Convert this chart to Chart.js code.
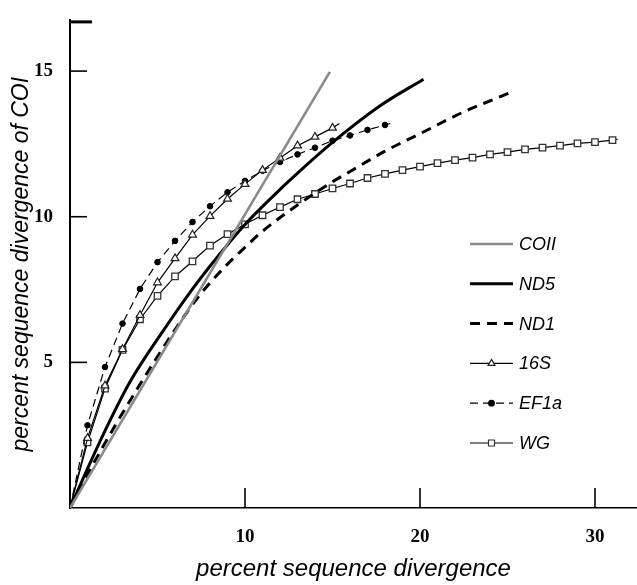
<!DOCTYPE html>
<html>
<head>
<meta charset="utf-8">
<script src="https://cdn.jsdelivr.net/npm/chart.js@4/dist/chart.umd.min.js"></script>
<style>
  html, body { margin: 0; padding: 0; background: #fff; }
  #wrap { width: 637px; height: 585px; }
</style>
</head>
<body>
<div id="wrap"><canvas id="chart"></canvas></div>
<script>
// values (x = percent divergence, y = percent divergence of COI)
const coiiX = [0, 14.85]
const coiiY = [0, 14.97]

const nd5X = [0, 1, 2, 3.4, 5.4, 7.1, 8.4, 10.1, 12.2, 13.1, 15, 17.7, 20.2]
const nd5Y = [0, 1.35, 2.65, 4.3, 6.15, 7.6, 8.6, 9.8, 11.05, 11.55, 12.55, 13.8, 14.72]

const nd1X = [0, 1, 2.6, 3.8, 5, 6.2, 7.4, 8.8, 10, 11, 13, 15, 16, 18, 20, 22.5, 25.2]
const nd1Y = [0, 1.15, 2.85, 4.05, 5.2, 6.3, 7.3, 8.25, 8.95, 9.5, 10.4, 11.2, 11.55, 12.25, 12.85, 13.6, 14.27]

const s16X = [0, 1, 2, 3, 4, 5, 6, 7, 8, 9, 10, 11, 12, 13, 14, 15, 15.4]
const s16Y = [0, 2.4, 4.2, 5.45, 6.62, 7.74, 8.57, 9.38, 10.02, 10.61, 11.12, 11.6, 12.02, 12.44, 12.74, 13.05, 13.2]

const ef1aX = [0, 1, 2, 3, 4, 5, 6, 7, 8, 9, 10, 11, 12, 13, 14, 15, 16, 17, 18, 18.3]
const ef1aY = [0, 2.84, 4.84, 6.33, 7.52, 8.44, 9.17, 9.82, 10.36, 10.84, 11.23, 11.58, 11.88, 12.14, 12.37, 12.61, 12.79, 12.98, 13.15, 13.2]

const wgX = [0, 1, 2, 3, 4, 5, 6, 7, 8, 9, 10, 11, 12, 13, 14, 15, 16, 17, 18, 19, 20, 21, 22, 23, 24, 25, 26, 27, 28, 29, 30, 31, 31.3]
const wgY = [0, 2.25, 4.1, 5.43, 6.48, 7.28, 7.95, 8.47, 9.01, 9.4, 9.74, 10.05, 10.33, 10.6, 10.78, 10.97, 11.14, 11.33, 11.47, 11.6, 11.72, 11.84, 11.94, 12.03, 12.14, 12.22, 12.31, 12.37, 12.44, 12.52, 12.56, 12.63, 12.66]

const xTicks = [10, 20, 30]
const yTicks = [5, 10, 15]
const xMax = 32.4
const yMax = 16.74

const pts = (xs, ys) => xs.map((x, i) => ({ x, y: ys[i] }))
// marker on every whole-number x except the origin and the line's loose end
const markerRadius = (xs, r) => xs.map(x => (x > 0 && Number.isInteger(x) ? r : 0))

const datasets = [
  { label: 'COII', data: pts(coiiX, coiiY), borderColor: '#8a8a8a', borderWidth: 2.6, pointRadius: 0 },
  { label: 'ND5', data: pts(nd5X, nd5Y), borderColor: '#000', borderWidth: 3, pointRadius: 0, cubicInterpolationMode: 'monotone' },
  { label: 'ND1', data: pts(nd1X, nd1Y), borderColor: '#000', borderWidth: 3, borderDash: [10, 7], pointRadius: 0, cubicInterpolationMode: 'monotone' },
  { label: '16S', data: pts(s16X, s16Y), borderColor: '#000', borderWidth: 1.2, pointStyle: 'triangle',
    pointRadius: markerRadius(s16X, 4.5), pointBackgroundColor: '#fff', pointBorderColor: '#222', pointBorderWidth: 1.2 },
  { label: 'EF1a', data: pts(ef1aX, ef1aY), borderColor: '#000', borderWidth: 1.2, borderDash: [8, 5], pointStyle: 'circle',
    pointRadius: markerRadius(ef1aX, 2.8), pointBackgroundColor: '#000', pointBorderColor: '#000', pointBorderWidth: 1 },
  { label: 'WG', data: pts(wgX, wgY), borderColor: '#000', borderWidth: 1.2, pointStyle: 'rect',
    pointRadius: markerRadius(wgX, 4.6), pointBackgroundColor: '#fff', pointBorderColor: '#333', pointBorderWidth: 1.3 },
]

const line = (ctx, x1, y1, x2, y2) => {
  ctx.beginPath(); ctx.moveTo(x1, y1); ctx.lineTo(x2, y2); ctx.stroke()
}

// tick marks point inward in the original, plus a heavy cap on top of the y axis
const axisMarks = {
  id: 'axisMarks',
  afterDraw(chart) {
    const { ctx, chartArea: a, scales: { x, y } } = chart
    ctx.save()
    ctx.strokeStyle = '#000'
    ctx.lineWidth = 1.6
    yTicks.forEach(v => line(ctx, a.left, y.getPixelForValue(v), a.left + 17, y.getPixelForValue(v)))
    xTicks.forEach(v => line(ctx, x.getPixelForValue(v), a.bottom, x.getPixelForValue(v), a.bottom - 20))
    ctx.lineWidth = 3
    line(ctx, a.left - 1, a.top + 1.5, a.left + 22, a.top + 1.5)
    ctx.restore()
  }
}

const drawMarker = (ctx, style, cx, cy, r) => {
  ctx.beginPath()
  if (style === 'triangle') {
    ctx.moveTo(cx, cy - r); ctx.lineTo(cx + r * 0.87, cy + r * 0.5); ctx.lineTo(cx - r * 0.87, cy + r * 0.5); ctx.closePath()
  } else if (style === 'rect') {
    ctx.rect(cx - r, cy - r, 2 * r, 2 * r)
  } else {
    ctx.arc(cx, cy, r, 0, Math.PI * 2)
  }
  ctx.fill(); ctx.stroke()
}

// legend: line sample with the marker in its middle, label to the right
const sideLegend = {
  id: 'sideLegend',
  afterDraw(chart) {
    const ctx = chart.ctx
    const x0 = 470, x1 = 513, rowY = 244, step = 39.8
    ctx.save()
    chart.data.datasets.forEach((ds, i) => {
      const cy = rowY + i * step
      ctx.strokeStyle = ds.borderColor
      ctx.lineWidth = ds.borderWidth
      ctx.setLineDash(ds.borderDash || [])
      line(ctx, x0, cy, x1, cy)
      ctx.setLineDash([])
      if (ds.pointStyle) {
        ctx.fillStyle = ds.pointBackgroundColor
        ctx.strokeStyle = ds.pointBorderColor
        ctx.lineWidth = 1.2
        const r = ds.pointStyle === 'rect' ? 3 : ds.pointStyle === 'triangle' ? 4 : 2.8
        drawMarker(ctx, ds.pointStyle, (x0 + x1) / 2, cy, r)
      }
      ctx.fillStyle = '#000'
      ctx.font = 'italic 18px "Liberation Sans", Arial, sans-serif'
      ctx.textBaseline = 'middle'
      ctx.fillText(ds.label, 519, cy + 1)
    })
    ctx.restore()
  }
}

new Chart(document.getElementById('chart'), {
  type: 'line',
  data: { datasets },
  plugins: [axisMarks, sideLegend],
  options: {
    responsive: true,
    maintainAspectRatio: false,
    animation: false,
    layout: { padding: { top: 12, right: 0, left: 0, bottom: 0 } },
    elements: { line: { tension: 0 } },
    plugins: { legend: { display: false }, tooltip: { enabled: false } },
    scales: {
      x: {
        type: 'linear', min: 0, max: xMax,
        grid: { display: false },
        border: { display: true, color: '#000', width: 1.6 },
        ticks: {
          stepSize: 10, includeBounds: false, padding: 10, color: '#000',
          font: { family: '"Liberation Serif", "Times New Roman", serif', size: 19, weight: 'bold' },
          callback: v => (v === 0 ? '' : v),
        },
        title: {
          display: true, text: 'percent sequence divergence', color: '#000',
          font: { family: '"Liberation Sans", Arial, sans-serif', size: 24, style: 'italic' },
          padding: { top: 0, bottom: 1 },
        },
        afterFit: s => { s.height = 77 },
      },
      y: {
        type: 'linear', min: 0, max: yMax,
        grid: { display: false },
        border: { display: true, color: '#000', width: 2 },
        ticks: {
          stepSize: 5, includeBounds: false, padding: 9, color: '#000',
          font: { family: '"Liberation Serif", "Times New Roman", serif', size: 19, weight: 'bold' },
          callback: v => (v === 0 ? '' : v),
        },
        title: {
          display: true, text: 'percent sequence divergence of COI', color: '#000',
          font: { family: '"Liberation Sans", Arial, sans-serif', size: 23, style: 'italic' },
          padding: { top: 8, bottom: 0 },
        },
        afterFit: s => { s.width = 70 },
      },
    },
  },
})
</script>
</body>
</html>
